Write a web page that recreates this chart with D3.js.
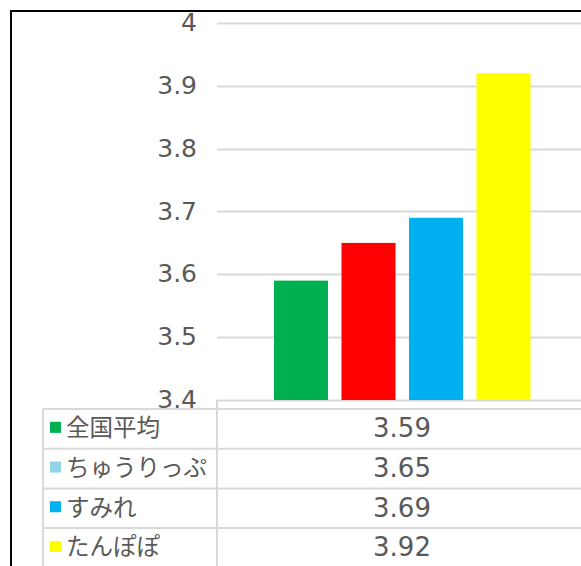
<!DOCTYPE html>
<html>
<head>
<meta charset="utf-8">
<script src="https://cdn.jsdelivr.net/npm/d3@7"></script>
<style>
  body { margin: 0; background: #fff; }
  svg { display: block; font-family: "Noto Sans CJK JP", "Noto Sans", sans-serif; }
  .num { font-family: "DejaVu Sans", sans-serif; }
</style>
</head>
<body>
<svg id="chart"></svg>
<script>
// data
const seriesNames = ["全国平均", "ちゅうりっぷ", "すみれ", "たんぽぽ"];
const seriesValues = [3.59, 3.65, 3.69, 3.92];
const barColors = ["#00B050", "#FF0000", "#00B0F0", "#FFFF00"];
const legendColors = ["#00B050", "#92D5E6", "#00B0F0", "#FFFF00"];
const yTicks = [3.4, 3.5, 3.6, 3.7, 3.8, 3.9, 4];

const W = 581, H = 566;
const margin = { top: 23, left: 217, right: -6, bottom: 166 };
const plotRight = W - margin.right;
const plotBottom = H - margin.bottom;
const textColor = "#595959";
const gridColor = "#D9D9D9";

const svg = d3.select("#chart").attr("width", W).attr("height", H);

const y = d3.scaleLinear()
  .domain([3.4, 4])
  .range([plotBottom, margin.top]);

// one category, series clustered inside it
const x = d3.scaleBand()
  .domain(seriesNames)
  .range([274, 530.5])
  .paddingInner(0.2)
  .paddingOuter(0);

// gridlines
svg.append("g")
  .selectAll("line")
  .data(yTicks)
  .enter()
  .append("line")
  .attr("x1", margin.left)
  .attr("x2", plotRight)
  .attr("y1", d => Math.round(y(d)) + 0.5)
  .attr("y2", d => Math.round(y(d)) + 0.5)
  .attr("stroke", gridColor)
  .attr("stroke-width", 2);

// bars
svg.append("g")
  .selectAll("rect")
  .data(seriesValues)
  .enter()
  .append("rect")
  .attr("x", (d, i) => x(seriesNames[i]))
  .attr("y", d => y(d))
  .attr("width", x.bandwidth())
  .attr("height", d => y(3.4) - y(d))
  .attr("fill", (d, i) => barColors[i]);

// data table
const rowTop = 409, rowH = 39.7, tableLeft = 43;
const table = svg.append("g");

table.append("line")
  .attr("x1", margin.left).attr("x2", W)
  .attr("y1", rowTop).attr("y2", rowTop)
  .attr("stroke", gridColor).attr("stroke-width", 2);
table.append("line")
  .attr("x1", tableLeft).attr("x2", margin.left)
  .attr("y1", rowTop).attr("y2", rowTop)
  .attr("stroke", gridColor).attr("stroke-width", 2);

seriesNames.forEach((name, i) => {
  const top = rowTop + i * rowH;
  table.append("line")
    .attr("x1", tableLeft).attr("x2", W)
    .attr("y1", top + rowH).attr("y2", top + rowH)
    .attr("stroke", gridColor).attr("stroke-width", 2);
  table.append("rect")
    .attr("x", 50).attr("y", top + rowH / 2 - 7)
    .attr("width", 11).attr("height", 11)
    .attr("fill", legendColors[i]);
  table.append("text")
    .attr("x", 66).attr("y", top + rowH / 2 + 1)
    .attr("dominant-baseline", "middle")
    .attr("fill", textColor)
    .attr("font-size", 23.5)
    .text(name);
  table.append("text")
    .attr("class", "num")
    .attr("x", (margin.left + plotRight) / 2)
    .attr("y", top + rowH / 2 + 1)
    .attr("dominant-baseline", "middle")
    .attr("text-anchor", "middle")
    .attr("fill", textColor)
    .attr("font-size", 26)
    .text(d3.format(".2f")(seriesValues[i]));
});

table.append("line")
  .attr("x1", tableLeft).attr("x2", tableLeft)
  .attr("y1", rowTop).attr("y2", H)
  .attr("stroke", gridColor).attr("stroke-width", 2);
table.append("line")
  .attr("x1", margin.left).attr("x2", margin.left)
  .attr("y1", plotBottom).attr("y2", H)
  .attr("stroke", gridColor).attr("stroke-width", 2);

// y axis labels
svg.append("g")
  .selectAll("text")
  .data(yTicks)
  .enter()
  .append("text")
  .attr("class", "num")
  .attr("x", 197)
  .attr("y", d => y(d) + 1)
  .attr("text-anchor", "end")
  .attr("dominant-baseline", "middle")
  .attr("fill", textColor)
  .attr("font-size", 25)
  .text(d => d3.format("")(d));

// outer frame (right/bottom edges fall outside the picture)
svg.append("path")
  .attr("d", `M11,${H + 5} V11 H${W + 5}`)
  .attr("fill", "none")
  .attr("stroke", "#000")
  .attr("stroke-width", 2);
</script>
</body>
</html>
